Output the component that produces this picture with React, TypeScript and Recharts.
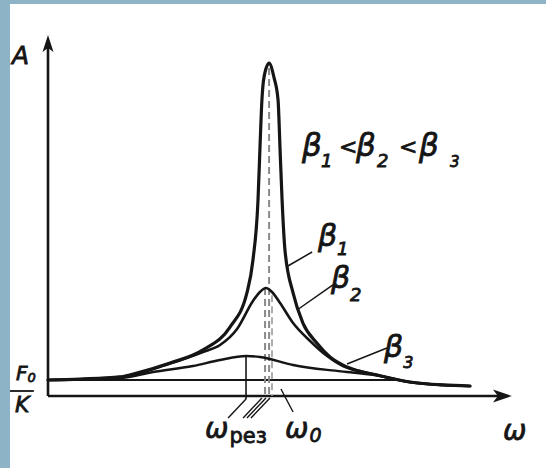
import React from 'react';
import { LineChart, Line, XAxis, YAxis, ReferenceLine, ReferenceDot } from 'recharts';

// ---- data (ω in units of ω0, A in units of F0/K) ----
const beta1W = [0, 0.143, 0.321, 0.397, 0.545, 0.692, 0.8125, 0.888, 0.915, 0.9375, 0.946, 0.955, 0.964, 0.987, 1.009, 1.027, 1.036, 1.045, 1.058, 1.094, 1.138, 1.2, 1.259, 1.335, 1.469, 1.616, 1.763, 1.884];
const beta1A = [1.0, 1.06, 1.19, 1.44, 2.06, 2.88, 4.31, 6.44, 8.5, 12.25, 15.4, 18.5, 19.9, 20.8, 19.9, 18.5, 15.4, 12.25, 9.1, 6.44, 4.56, 3.31, 2.44, 1.81, 1.31, 0.875, 0.69, 0.625];

const beta2W = [0, 0.321, 0.545, 0.692, 0.768, 0.844, 0.915, 0.946, 0.973, 1.0, 1.036, 1.094, 1.17, 1.246, 1.317, 1.393, 1.469, 1.616, 1.763, 1.884];
const beta2A = [1.0, 1.19, 2.03, 2.75, 3.19, 4.19, 5.94, 6.5, 6.75, 6.5, 5.81, 4.56, 3.44, 2.5, 1.875, 1.56, 1.31, 0.875, 0.69, 0.625];

const beta3W = [0, 0.321, 0.469, 0.647, 0.768, 0.884, 0.946, 1.094, 1.246, 1.335, 1.469, 1.616, 1.763, 1.884];
const beta3A = [1.0, 1.125, 1.5, 1.875, 2.25, 2.5, 2.44, 1.94, 1.63, 1.5, 1.28, 0.86, 0.68, 0.62];

// resonance positions
const peakW = [0.987, 0.969, 0.884]; // β1, β2, β3
const peakA = [20.5, 6.75, 2.5];
const omega0 = 1.0;
const staticLevel = 1.0; // F0/K
const staticLineEnd = 1.55;
const axisEndW = 2.071;
const axisEndA = 22.56;

const zip = (w: number[], a: number[]) => w.map((x, i) => ({ w: x, a: a[i] }));
const series1 = zip(beta1W, beta1A);
const series2 = zip(beta2W, beta2A);
const series3 = zip(beta3W, beta3A);

const X_DOMAIN: [number, number] = [-0.2143, 2.2232];
const Y_DOMAIN: [number, number] = [-4.5, 24.75];

const INK = '#151515';
const FONT = '"DejaVu Sans", "Liberation Sans", sans-serif';

const ArrowUp = (p: any) => (
  <path d={`M${p.cx},${p.cy} L${p.cx - 5.5},${p.cy + 17} L${p.cx},${p.cy + 13} L${p.cx + 5.5},${p.cy + 17} Z`} fill={INK} />
);
const ArrowRight = (p: any) => (
  <path d={`M${p.cx},${p.cy} L${p.cx - 19},${p.cy - 6.5} L${p.cx - 14},${p.cy} L${p.cx - 19},${p.cy + 6.5} Z`} fill={INK} />
);

const makeLabel = (main: string, sub: string, size: number, subSize: number, subDx: number, subDy: number, subUpright = false) => (p: any) => (
  <text x={p.cx} y={p.cy} fontFamily={FONT} fontStyle="italic" fontSize={size} fill={INK} stroke={INK} strokeWidth={0.8}>
    {main}
    {sub ? (
      <tspan dx={subDx} dy={subDy} fontSize={subSize} fontStyle={subUpright ? 'normal' : 'italic'}>
        {sub}
      </tspan>
    ) : null}
  </text>
);

const Formula = (p: any) => {
  const t = (dx: number, dy: number, s: number, txt: string) => (
    <text x={p.cx + dx} y={p.cy + dy} fontFamily={FONT} fontStyle="italic" fontSize={s} fill={INK} stroke={INK} strokeWidth={0.8}>
      {txt}
    </text>
  );
  return (
    <g>
      {t(-1, 0, 31, 'β')}
      {t(18, 11, 18, '1')}
      {t(36, -2, 22, '<')}
      {t(53, 0, 31, 'β')}
      {t(74, 11, 18, '2')}
      {t(96, -2, 22, '<')}
      {t(116, 0, 31, 'β')}
      {t(147, 11, 15, '3')}
    </g>
  );
};

const seg = (x1: number, y1: number, x2: number, y2: number) => [
  { x: x1, y: y1 },
  { x: x2, y: y2 },
];

export default function App() {
  return (
    <div style={{ position: 'absolute', left: 0, top: 0, width: 546, height: 468, background: '#ffffff', overflow: 'hidden' }}>
      <LineChart width={546} height={468} margin={{ top: 0, right: 0, bottom: 0, left: 0 }}>
        <XAxis type="number" dataKey="w" domain={X_DOMAIN} allowDataOverflow hide />
        <YAxis type="number" dataKey="a" domain={Y_DOMAIN} allowDataOverflow hide />

        {/* axes */}
        <ReferenceLine segment={seg(0, 0, axisEndW - 0.05, 0)} stroke={INK} strokeWidth={2.6} />
        <ReferenceLine segment={seg(0, 0, 0, axisEndA - 0.6)} stroke={INK} strokeWidth={2.6} />
        <ReferenceDot x={0} y={axisEndA} r={0} shape={ArrowUp} />
        <ReferenceDot x={axisEndW} y={0} r={0} shape={ArrowRight} />

        {/* static level F0/K */}
        <ReferenceLine segment={seg(0, staticLevel, staticLineEnd, staticLevel)} stroke={INK} strokeWidth={2.2} />

        {/* resonance verticals */}
        <ReferenceLine segment={seg(peakW[0], peakA[0], peakW[0], 0)} stroke="#8a8a8a" strokeWidth={2} strokeDasharray="7 4" />
        <ReferenceLine segment={seg(peakW[1], peakA[1], peakW[1], 0)} stroke="#8a8a8a" strokeWidth={2} strokeDasharray="7 4" />
        <ReferenceLine segment={seg(omega0, 6.3, omega0, 0)} stroke="#9a9a9a" strokeWidth={1.6} strokeDasharray="7 4" />
        <ReferenceLine segment={seg(peakW[2], peakA[2], peakW[2], -0.2)} stroke={INK} strokeWidth={1.6} />

        {/* leader lines */}
        <ReferenceLine segment={seg(1.071, 8.125, 1.179, 9.0)} stroke={INK} strokeWidth={1.5} />
        <ReferenceLine segment={seg(1.112, 5.375, 1.272, 6.94)} stroke={INK} strokeWidth={1.5} />
        <ReferenceLine segment={seg(1.335, 2.0, 1.513, 3.0)} stroke={INK} strokeWidth={1.5} />
        <ReferenceLine segment={seg(0.884, -0.19, 0.804, -1.375)} stroke={INK} strokeWidth={1.4} />
        <ReferenceLine segment={seg(0.955, -0.125, 0.871, -1.375)} stroke={INK} strokeWidth={1.4} />
        <ReferenceLine segment={seg(0.973, -0.125, 0.888, -1.375)} stroke={INK} strokeWidth={1.4} />
        <ReferenceLine segment={seg(0.991, -0.125, 0.906, -1.375)} stroke={INK} strokeWidth={1.4} />
        <ReferenceLine segment={seg(1.04, 0.44, 1.094, -1.0)} stroke={INK} strokeWidth={1.4} />

        {/* fraction bar of F0/K */}
        <ReferenceLine segment={seg(-0.17, 0.3125, -0.063, 0.3125)} stroke={INK} strokeWidth={1.8} />

        {/* curves */}
        <Line data={series3} dataKey="a" type="monotone" stroke={INK} strokeWidth={2.4} dot={false} isAnimationActive={false} strokeLinecap="round" />
        <Line data={series2} dataKey="a" type="monotone" stroke={INK} strokeWidth={2.6} dot={false} isAnimationActive={false} strokeLinecap="round" />
        <Line data={series1} dataKey="a" type="monotone" stroke={INK} strokeWidth={3.2} dot={false} isAnimationActive={false} strokeLinecap="round" />

        {/* text labels */}
        <ReferenceDot x={-0.161} y={20.75} r={0} shape={makeLabel('A', '', 25, 0, 0, 0)} />
        <ReferenceDot x={1.138} y={15.0} r={0} shape={Formula} />
        <ReferenceDot x={1.205} y={9.375} r={0} shape={makeLabel('β', '1', 30, 18, 0, 9)} />
        <ReferenceDot x={1.263} y={6.75} r={0} shape={makeLabel('β', '2', 30, 18, 0, 13)} />
        <ReferenceDot x={1.5} y={2.44} r={0} shape={makeLabel('β', '3', 30, 16, 0, 11)} />
        <ReferenceDot x={0.701} y={-2.625} r={0} shape={makeLabel('ω', 'рез', 28, 21, 1, 5, true)} />
        <ReferenceDot x={1.058} y={-2.625} r={0} shape={makeLabel('ω', '0', 28, 19, 1, 4)} />
        <ReferenceDot x={2.031} y={-2.75} r={0} shape={makeLabel('ω', '', 28, 0, 0, 0)} />
        <ReferenceDot x={-0.143} y={1.0} r={0} shape={makeLabel('F', '0', 20, 13, 0, 2)} />
        <ReferenceDot x={-0.147} y={-1.0} r={0} shape={makeLabel('K', '', 22, 0, 0, 0)} />
      </LineChart>
      <div style={{ position: 'absolute', left: 0, top: 0, width: 10, height: 468, background: '#8db3c7' }} />
      <div style={{ position: 'absolute', left: 0, top: 0, width: 546, height: 3.5, background: '#8db3c7' }} />
    </div>
  );
}
